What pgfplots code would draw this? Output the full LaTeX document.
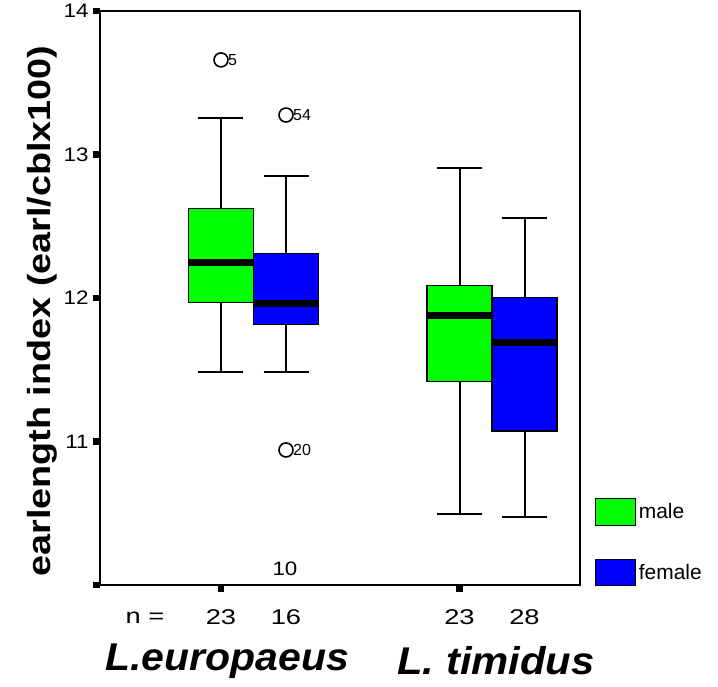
\documentclass[border=0pt]{standalone}
\usepackage{fontspec}
\setmainfont{Liberation Sans}
\usepackage{graphicx}
\usepackage{pgfplots}
\usepgfplotslibrary{statistics}
\pgfplotsset{compat=1.18}
\definecolor{spssgreen}{RGB}{0,255,0}
\definecolor{spssblue}{RGB}{0,0,255}
% SPSS text comes out wide, so stretch it a bit
\newcommand\sa[1]{\scalebox{1.15}[1]{#1}}
\newcommand\sn[1]{\scalebox{1.28}[1]{#1}}

\begin{document}
\begin{tikzpicture}
\begin{axis}[
  name=ax, scale only axis, width=360pt, height=430.5pt,
  xmin=1, xmax=5.8, ymin=10, ymax=14,
  clip=false,
  axis line style={line width=1.5pt},
  tick align=outside, tick pos=left,
  major tick length=5pt,
  tick style={line width=5pt, black},
  xtick={2.21,4.595}, xticklabels={},
  ytick={10,11,12,13,14}, yticklabels={{},\sa{11},\sa{12},\sa{13},\sa{14}},
  yticklabel style={font=\fontsize{14.6}{16}\selectfont},
  boxplot/draw direction=y,
  boxplot/every median/.style={line width=5.25pt, black},
  boxplot/every whisker/.style={line width=1.5pt, black},
  boxplot/every box/.style={line width=0.8pt},
  legend image code/.code={\draw[#1] (0pt,-10pt) rectangle (30pt,10pt);},
  legend style={at={(1.031,0.1516)}, anchor=north west, draw=none, fill=none,
    inner sep=0pt, row sep=24.5pt, font=\fontsize{15.7}{17}\selectfont},
  legend cell align=left,
]
% L.europaeus
\addplot[forget plot, fill=spssgreen, draw=black, boxplot prepared={draw position=2.21,
  lower whisker=11.482, lower quartile=11.970, median=12.244,
  upper quartile=12.625, upper whisker=13.254, box extend=0.65, whisker extend=0.45}] coordinates {};
\addplot[forget plot, fill=spssblue, draw=black, boxplot prepared={draw position=2.86,
  lower whisker=11.482, lower quartile=11.814, median=11.960,
  upper quartile=12.307, upper whisker=12.850, box extend=0.65, whisker extend=0.45}] coordinates {};
% L. timidus
\addplot[forget plot, fill=spssgreen, draw=black, boxplot prepared={draw position=4.595,
  lower whisker=10.495, lower quartile=11.420, median=11.879,
  upper quartile=12.084, upper whisker=12.903, box extend=0.65, whisker extend=0.45}] coordinates {};
\addplot[forget plot, fill=spssblue, draw=black, boxplot prepared={draw position=5.245,
  lower whisker=10.474, lower quartile=11.073, median=11.693,
  upper quartile=12.002, upper whisker=12.555, box extend=0.65, whisker extend=0.45}] coordinates {};
% outliers with case numbers
\addplot[forget plot, only marks, mark=o, mark size=5.25pt,
  mark options={line width=1.2pt, black},
  nodes near coords, point meta=explicit symbolic,
  nodes near coords style={anchor=west, inner sep=0pt, xshift=4.8pt,
    font=\fontsize{12}{13}\selectfont}]
  coordinates {(2.21,13.659)[5] (2.86,13.275)[54] (2.86,10.941)[20]};

\addlegendimage{fill=spssgreen, draw=black, line width=0.8pt}
\addlegendentry{male}
\addlegendimage{fill=spssblue, draw=black, line width=0.8pt}
\addlegendentry{female}

\node[font=\fontsize{14.6}{16}\selectfont] at (axis cs:2.85,10.111) {\sa{10}};
\node[font=\fontsize{16}{17}\selectfont] at (axis cs:1.45,9.7735) {\sn{n =}};
\node[font=\fontsize{16}{17}\selectfont] at (axis cs:2.21,9.7735) {\sn{23}};
\node[font=\fontsize{16}{17}\selectfont] at (axis cs:2.86,9.7735) {\sn{16}};
\node[font=\fontsize{16}{17}\selectfont] at (axis cs:4.595,9.7735) {\sn{23}};
\node[font=\fontsize{16}{17}\selectfont] at (axis cs:5.245,9.7735) {\sn{28}};
\node[font=\fontsize{29}{32}\selectfont\bfseries\itshape] at (axis cs:2.27,9.4704)
  {\scalebox{1.06}[1]{L.europaeus}};
\node[font=\fontsize{29}{32}\selectfont\bfseries\itshape] at (axis cs:4.96,9.4704)
  {\scalebox{1.08}[1]{L. timidus}};
\node[rotate=90, font=\fontsize{24}{26}\selectfont\bfseries] at (axis cs:0.42,11.909)
  {\scalebox{1.18}[1]{earlength index (earl/cblx100)}};
\end{axis}
\pgfresetboundingbox
\path ([shift={(-75pt,-76.5pt)}]ax.south west) rectangle ([shift={(103.5pt,8.25pt)}]ax.north east);
\end{tikzpicture}
\end{document}
